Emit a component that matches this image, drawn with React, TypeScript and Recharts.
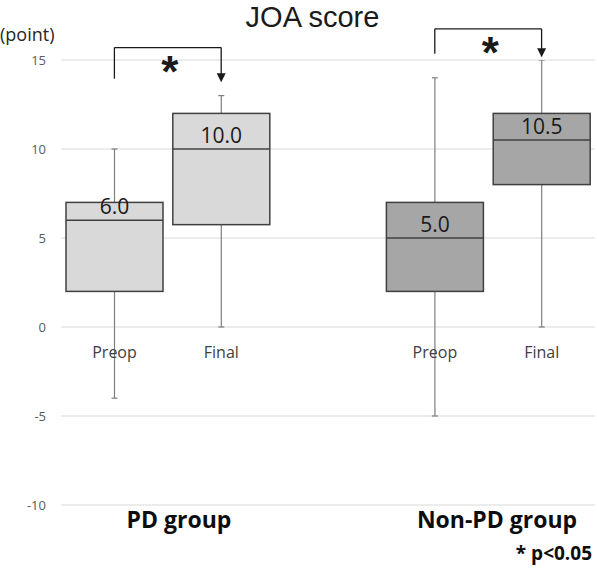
import React from "react";
import {
  ComposedChart,
  Bar,
  XAxis,
  YAxis,
  CartesianGrid,
  ReferenceLine,
  ReferenceDot,
} from "recharts";

const keys = ["PD-Preop", "PD-Final", "gap", "NonPD-Preop", "NonPD-Final"];
const labels = ["Preop", "Final", "", "Preop", "Final"];
const groups = ["PD", "PD", "", "NonPD", "NonPD"];
const minVals = [-4, 0, null, -5, 0];
const q1Vals = [2, 5.75, null, 2, 8];
const medians = [6, 10, null, 5, 10.5];
const q3Vals = [7, 12, null, 7, 12];
const maxVals = [10, 13, null, 14, 15];
const yTicks = [-10, -5, 0, 5, 10, 15];

const data = keys.map((k, i) => ({
  key: k,
  label: labels[i],
  group: groups[i],
  min: minVals[i],
  q1: q1Vals[i],
  median: medians[i],
  q3: q3Vals[i],
  max: maxVals[i],
  range: minVals[i] === null ? null : [minVals[i], maxVals[i]],
}));

const FONT = "'Open Sans', 'Noto Sans', sans-serif";
const FILLS: Record<string, string> = { PD: "#d9d9d9", NonPD: "#a6a6a6" };

function BoxShape(props: any) {
  const { x, y, width, height, payload } = props;
  if (!payload || payload.min === null) return null;
  const ppu = height / (payload.max - payload.min);
  const yOf = (v: number) => y + (payload.max - v) * ppu;
  const cx = x + width / 2;
  return (
    <g>
      <line x1={cx} x2={cx} y1={yOf(payload.max)} y2={yOf(payload.min)} stroke="#7f7f7f" strokeWidth={1.2} />
      <line x1={cx - 3} x2={cx + 3} y1={yOf(payload.max)} y2={yOf(payload.max)} stroke="#7f7f7f" strokeWidth={1.2} />
      <line x1={cx - 3} x2={cx + 3} y1={yOf(payload.min)} y2={yOf(payload.min)} stroke="#7f7f7f" strokeWidth={1.2} />
      <rect
        x={x}
        y={yOf(payload.q3)}
        width={width}
        height={yOf(payload.q1) - yOf(payload.q3)}
        fill={FILLS[payload.group]}
        stroke="#404040"
        strokeWidth={1.5}
      />
      <line x1={x} x2={x + width} y1={yOf(payload.median)} y2={yOf(payload.median)} stroke="#404040" strokeWidth={1.5} />
      <text x={cx} y={yOf(payload.median) - 6} textAnchor="middle" fontFamily={FONT} fontSize={21} fill="#1a1a1a">
        {payload.median.toFixed(1)}
      </text>
      <text x={cx} y={yOf(0) + 31} textAnchor="middle" fontFamily={FONT} fontSize={16} fill="#404040">
        {payload.label}
      </text>
    </g>
  );
}

const Arrow = (props: any) => {
  const { cx, cy } = props;
  return <path d={`M${cx - 4.5},${cy - 9} L${cx + 4.5},${cy - 9} L${cx},${cy} Z`} fill="#1a1a1a" />;
};

const Star = (props: any) => {
  const vb = props.viewBox || {};
  return (
    <text
      x={vb.x + (vb.width || 0) / 2 + 2}
      y={vb.y + 39}
      textAnchor="middle"
      fontFamily="'Liberation Sans', Arial, sans-serif"
      fontWeight="bold"
      fontSize={44}
      fill="#1a1a1a"
    >
      *
    </text>
  );
};

const brackets = [
  { from: "PD-Preop", to: "PD-Final", top: 15.7, left: 13.95, tip: 13.75 },
  { from: "NonPD-Preop", to: "NonPD-Final", top: 16.75, left: 15.35, tip: 15.15 },
];

export default function App() {
  return (
    <div style={{ position: "absolute", left: 0, top: 0, width: 597, height: 570, background: "#fff" }}>
      <ComposedChart
        width={597}
        height={570}
        data={data}
        margin={{ top: 60, right: 2, bottom: 65, left: 0 }}
      >
        <CartesianGrid vertical={false} stroke="#d9d9d9" />
        <XAxis dataKey="key" hide />
        <YAxis
          domain={[-10, 15]}
          ticks={yTicks}
          width={61}
          axisLine={false}
          tickLine={false}
          tickSize={0}
          tickMargin={15}
          tick={{ fontFamily: FONT, fontSize: 13, fill: "#595959" }}
          allowDataOverflow
        />
        <Bar dataKey="range" barSize={97} shape={<BoxShape />} isAnimationActive={false} />
        {brackets.map((b) => (
          <React.Fragment key={b.from}>
            <ReferenceLine
              segment={[{ x: b.from, y: b.left }, { x: b.from, y: b.top }]}
              stroke="#1a1a1a"
              strokeWidth={1.3}
              ifOverflow="visible"
            />
            <ReferenceLine
              segment={[{ x: b.from, y: b.top }, { x: b.to, y: b.top }]}
              stroke="#1a1a1a"
              strokeWidth={1.3}
              ifOverflow="visible"
              label={<Star />}
            />
            <ReferenceLine
              segment={[{ x: b.to, y: b.top }, { x: b.to, y: b.tip + 0.4 }]}
              stroke="#1a1a1a"
              strokeWidth={1.3}
              ifOverflow="visible"
            />
            <ReferenceDot x={b.to} y={b.tip} ifOverflow="visible" shape={<Arrow />} />
          </React.Fragment>
        ))}
      </ComposedChart>
      <div style={{ position: "absolute", left: 0, width: 597, top: 1, lineHeight: "32px", textAlign: "center", paddingLeft: 28, boxSizing: "border-box", fontFamily: "'Liberation Sans', Arial, sans-serif", fontSize: 29, color: "#1a1a1a" }}>
        JOA score
      </div>
      <div style={{ position: "absolute", left: 0, top: 22, fontFamily: FONT, fontSize: 18, color: "#262626" }}>(point)</div>
      <div style={{ position: "absolute", left: 179, top: 503, transform: "translateX(-50%)", fontFamily: FONT, fontWeight: 700, fontSize: 23, color: "#0d0d0d", whiteSpace: "nowrap" }}>
        PD group
      </div>
      <div style={{ position: "absolute", left: 497, top: 503, transform: "translateX(-50%)", fontFamily: FONT, fontWeight: 700, fontSize: 23, color: "#0d0d0d", whiteSpace: "nowrap" }}>
        Non-PD group
      </div>
      <div style={{ position: "absolute", right: 5, top: 540, fontFamily: FONT, fontWeight: 700, fontSize: 19, color: "#0d0d0d", whiteSpace: "nowrap" }}>
        * p&lt;0.05
      </div>
    </div>
  );
}
